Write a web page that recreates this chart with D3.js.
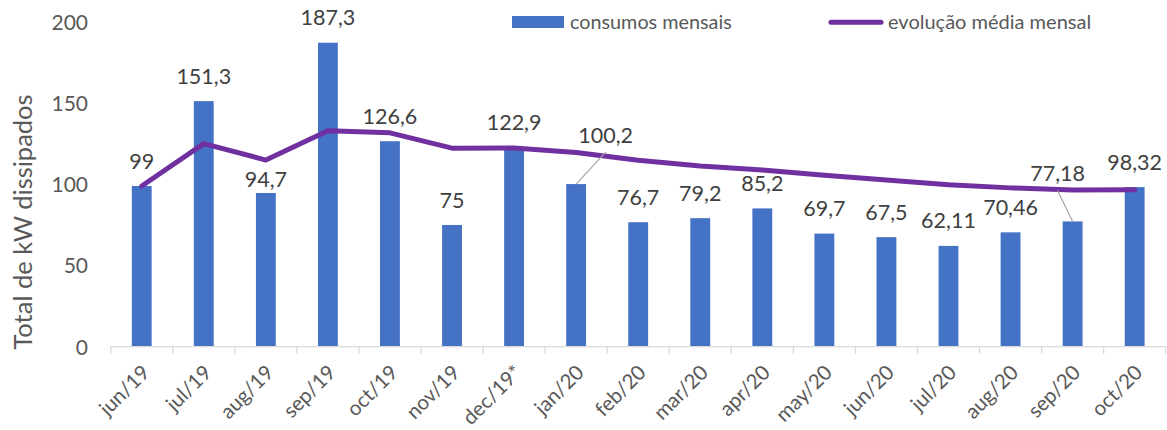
<!DOCTYPE html>
<html>
<head>
<meta charset="utf-8">
<script src="https://cdn.jsdelivr.net/npm/d3@7"></script>
<style>
  html, body { margin: 0; padding: 0; background: #fff; }
  svg { display: block; }
  text { font-family: Lato, "Open Sans", sans-serif; }
</style>
</head>
<body>
<svg id="chart" width="1167" height="430"></svg>
<script>
// ---- data ----
const categories = ["jun/19","jul/19","aug/19","sep/19","oct/19","nov/19","dec/19*","jan/20","feb/20","mar/20","apr/20","may/20","jun/20","jul/20","aug/20","sep/20","oct/20"];
const consumos = [99, 151.3, 94.7, 187.3, 126.6, 75, 122.9, 100.2, 76.7, 79.2, 85.2, 69.7, 67.5, 62.11, 70.46, 77.18, 98.32];
const consumoLabels = ["99","151,3","94,7","187,3","126,6","75","122,9","100,2","76,7","79,2","85,2","69,7","67,5","62,11","70,46","77,18","98,32"];
const mediaMensal = [99, 125.15, 115, 133.08, 131.78, 122.32, 122.4, 119.6, 114.86, 111.29, 108.92, 105.66, 102.72, 99.81, 97.86, 96.57, 96.67];
const yTicks = [0, 50, 100, 150, 200];
const seriesNames = ["consumos mensais", "evolução média mensal"];
const yTitle = "Total de kW dissipados";

// ---- layout (label nudges in px, separate from data) ----
const labelNudge = { 2: [0, 11], 7: [29.5, -24], 15: [-15, -23] };
const leaderIdx = [7, 15];

const W = 1167, H = 430;
const plot = { left: 110.7, right: 1165.7, top: 22.1, bottom: 346.7 };
const barColor = "#4472C4", lineColor = "#7030A0";

const svg = d3.select("#chart");
svg.append("rect").attr("width", W).attr("height", H).attr("fill", "#fff");

const x = d3.scaleBand().domain(categories).range([plot.left, plot.right]).paddingInner(0).paddingOuter(0);
const y = d3.scaleLinear().domain([0, 200]).range([plot.bottom, plot.top]);
const barW = x.bandwidth() * 0.32;
const cx = d => x(d) + x.bandwidth() / 2;

// y axis labels (no line)
const yAxis = d3.axisLeft(y).tickValues(yTicks).tickSize(0).tickPadding(0).tickFormat(d => d);
const gy = svg.append("g").attr("transform", `translate(88,0)`).call(yAxis);
gy.select(".domain").remove();
gy.selectAll("text").attr("font-family", "Lato").attr("font-size", 21).attr("fill", "#595959").attr("dy", "0.35em");

// bars
svg.append("g").selectAll("rect").data(categories).join("rect")
  .attr("x", (d) => cx(d) - barW / 2)
  .attr("y", (d, i) => y(consumos[i]))
  .attr("width", barW)
  .attr("height", (d, i) => y(0) - y(consumos[i]))
  .attr("fill", barColor);

// x axis
const xAxis = d3.axisBottom(x).tickSize(0).tickFormat("");
const gx = svg.append("g").attr("transform", `translate(0,${plot.bottom})`).call(xAxis);
gx.select(".domain").attr("stroke", "#D9D9D9").attr("stroke-width", 1.3).attr("d", `M${plot.left},0H${plot.right}`);
const bounds = categories.map(d => x(d)).concat([plot.right]);
gx.append("g").selectAll("line").data(bounds).join("line")
  .attr("x1", d => d).attr("x2", d => d).attr("y1", 0).attr("y2", 7)
  .attr("stroke", "#D9D9D9").attr("stroke-width", 1.3);
svg.append("g").selectAll("text").data(categories).join("text")
  .attr("transform", d => `translate(${cx(d) + 4},${plot.bottom + 22}) rotate(-45)`)
  .attr("text-anchor", "end").attr("dy", "0.35em")
  .attr("font-size", 20.5).attr("fill", "#595959")
  .text(d => d);

// line
const line = d3.line().x((d, i) => cx(categories[i])).y(d => y(d));
svg.append("path").datum(mediaMensal).attr("d", line)
  .attr("fill", "none").attr("stroke", lineColor).attr("stroke-width", 5)
  .attr("stroke-linejoin", "round").attr("stroke-linecap", "round");

// data labels
const lblPos = consumos.map((v, i) => {
  const n = labelNudge[i] || [0, 0];
  return [cx(categories[i]) + n[0], y(v) - 25 + n[1]];
});
svg.append("g").selectAll("line").data(leaderIdx).join("line")
  .attr("x1", i => cx(categories[i])).attr("y1", i => y(consumos[i]))
  .attr("x2", i => lblPos[i][0]).attr("y2", i => lblPos[i][1] + 17)
  .attr("stroke", "#A6A6A6").attr("stroke-width", 1.2);
svg.append("g").selectAll("text").data(consumoLabels).join("text")
  .attr("x", (d, i) => lblPos[i][0]).attr("y", (d, i) => lblPos[i][1])
  .attr("dy", "0.35em").attr("text-anchor", "middle")
  .attr("font-size", 21.5).attr("fill", "#404040")
  .text(d => d);

// y title
svg.append("text")
  .attr("transform", `translate(32,222) rotate(-90)`)
  .attr("text-anchor", "middle").attr("font-size", 25.5).attr("fill", "#595959")
  .text(yTitle);

// legend
const lg = svg.append("g");
lg.append("rect").attr("x", 512).attr("y", 16).attr("width", 52).attr("height", 12).attr("fill", barColor);
lg.append("text").attr("x", 570).attr("y", 22).attr("dy", "0.35em").attr("font-size", 19.8).attr("fill", "#595959").text(seriesNames[0]);
lg.append("line").attr("x1", 831).attr("x2", 881).attr("y1", 22.3).attr("y2", 22.3)
  .attr("stroke", lineColor).attr("stroke-width", 5).attr("stroke-linecap", "round");
lg.append("text").attr("x", 888).attr("y", 22).attr("dy", "0.35em").attr("font-size", 20).attr("fill", "#595959").text(seriesNames[1]);
</script>
</body>
</html>
